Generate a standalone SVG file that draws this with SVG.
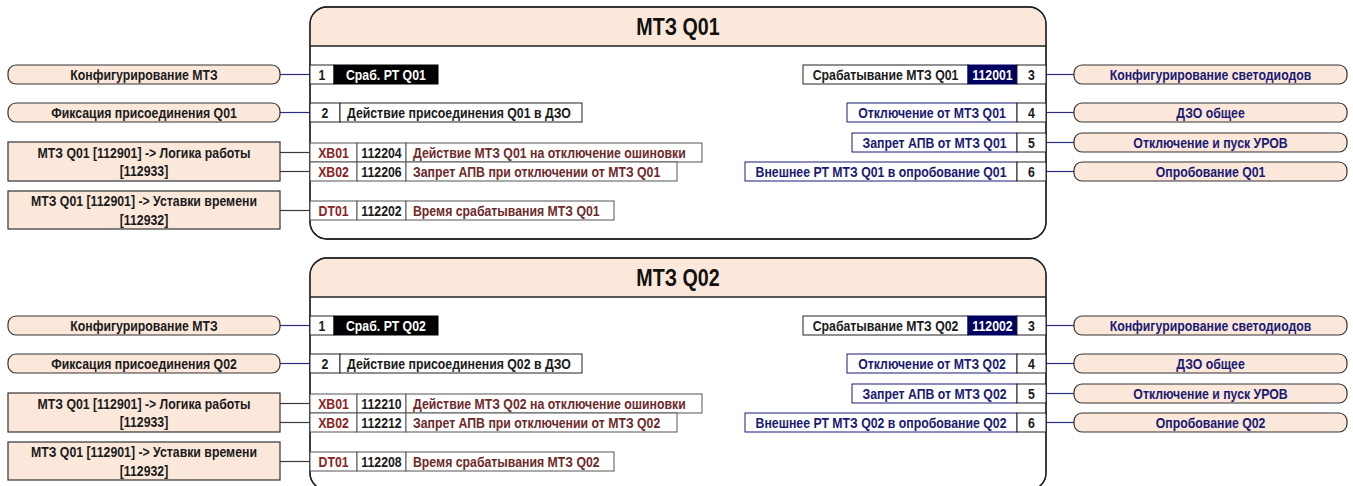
<svg xmlns="http://www.w3.org/2000/svg" width="1353" height="486" viewBox="0 0 1353 486">
<style>
text{font-family:"Liberation Sans Narrow","Arial Narrow","Liberation Sans",sans-serif;font-weight:bold;font-size:15px;fill:#1a1a1a;transform-box:fill-box;transform-origin:center;transform:scaleX(0.82)}
.l{transform-origin:left center}
.title{font-size:24px;fill:#111;text-anchor:middle}
.c{text-anchor:middle}
.pill{fill:#fce8da;stroke:#333;stroke-width:1.2}
.box{fill:#fce8da;stroke:#333;stroke-width:1.2}
.body{fill:#fff;stroke:#222;stroke-width:1.3}
.hdr{fill:#fce8da;stroke:none}
.sep{stroke:#222;stroke-width:1.3}
.cell{fill:#fff;stroke:#222;stroke-width:1}
.gcell{fill:#fff;stroke:#555;stroke-width:1}
.ncell{fill:#fff;stroke:#1a1a7a;stroke-width:1}
.blk{fill:#000;stroke:#000}
.navy{fill:#000060;stroke:#000060}
.w{fill:#fff}
.nv{fill:#1a1a72}
.br{fill:#6e2a2a}
.rd{fill:#8a2424}
.cb{stroke:#2b2b85;stroke-width:1.2;fill:none}
.cd{stroke:#3a3a3a;stroke-width:1.2;fill:none}
</style>
<defs>
<g id="blockshape">
<rect class="body" x="310" y="7" width="736" height="232" rx="17"/>
<path class="hdr" d="M310.7,46 V24 A17,17 0 0 1 327,7.7 H1029 A17,17 0 0 1 1045.3,24 V46 Z"/>
<line class="sep" x1="310" y1="46" x2="1046" y2="46"/>
<rect x="310" y="7" width="736" height="232" rx="17" fill="none" stroke="#222" stroke-width="1.3"/>
</g>
</defs>

<g id="connectors">
<g id="conn-q01">
<line class="cb" x1="280" y1="74.5" x2="310" y2="74.5"/>
<line class="cb" x1="280" y1="112.5" x2="310" y2="112.5"/>
<line class="cd" x1="280" y1="152.5" x2="310" y2="152.5"/>
<line class="cd" x1="280" y1="171.5" x2="310" y2="171.5"/>
<line class="cd" x1="280" y1="210.5" x2="310" y2="210.5"/>
<line class="cb" x1="1046" y1="74.5" x2="1074" y2="74.5"/>
<line class="cb" x1="1046" y1="112.5" x2="1074" y2="112.5"/>
<line class="cb" x1="1046" y1="142.5" x2="1074" y2="142.5"/>
<line class="cb" x1="1046" y1="171.5" x2="1074" y2="171.5"/>
</g>
<g id="conn-q02" transform="translate(0,251)">
<line class="cb" x1="280" y1="74.5" x2="310" y2="74.5"/>
<line class="cb" x1="280" y1="112.5" x2="310" y2="112.5"/>
<line class="cd" x1="280" y1="152.5" x2="310" y2="152.5"/>
<line class="cd" x1="280" y1="171.5" x2="310" y2="171.5"/>
<line class="cd" x1="280" y1="210.5" x2="310" y2="210.5"/>
<line class="cb" x1="1046" y1="74.5" x2="1074" y2="74.5"/>
<line class="cb" x1="1046" y1="112.5" x2="1074" y2="112.5"/>
<line class="cb" x1="1046" y1="142.5" x2="1074" y2="142.5"/>
<line class="cb" x1="1046" y1="171.5" x2="1074" y2="171.5"/>
</g>
</g>

<!-- ===== Block Q01 ===== -->
<g id="mtz-q01">
<use href="#blockshape"/>
<text class="title" x="678" y="35">МТЗ Q01</text>
<rect class="cell" x="310" y="65" width="24" height="19"/><text class="c" x="322" y="80">1</text>
<rect class="blk" x="334" y="65" width="104" height="19"/><text class="w l" x="346" y="80">Сраб. РТ Q01</text>
<rect class="cell" x="310" y="103" width="30" height="19"/><text class="c" x="325" y="118">2</text>
<rect class="cell" x="340" y="103" width="242" height="19"/><text class="l" x="347" y="118">Действие присоединения Q01 в ДЗО</text>
<rect class="gcell" x="310" y="143" width="47" height="19"/><text class="c rd" x="333.5" y="158">XB01</text>
<rect class="gcell" x="357" y="143" width="49" height="19"/><text class="c" x="381.5" y="158">112204</text>
<rect class="gcell" x="406" y="143" width="296" height="19"/><text class="br l" x="413" y="158">Действие МТЗ Q01 на отключение ошиновки</text>
<rect class="gcell" x="310" y="162" width="47" height="19"/><text class="c rd" x="333.5" y="177">XB02</text>
<rect class="gcell" x="357" y="162" width="49" height="19"/><text class="c" x="381.5" y="177">112206</text>
<rect class="gcell" x="406" y="162" width="271" height="19"/><text class="br l" x="413" y="177">Запрет АПВ при отключении от МТЗ Q01</text>
<rect class="gcell" x="310" y="201" width="47" height="19"/><text class="c rd" x="333.5" y="216">DT01</text>
<rect class="gcell" x="357" y="201" width="49" height="19"/><text class="c" x="381.5" y="216">112202</text>
<rect class="gcell" x="406" y="201" width="208" height="19"/><text class="br l" x="413" y="216">Время срабатывания МТЗ Q01</text>
<rect class="cell" x="803" y="65" width="165" height="19"/><text class="c" x="885.5" y="80">Срабатывание МТЗ Q01</text>
<rect class="navy" x="968" y="65" width="49" height="19"/><text class="c w" x="992.5" y="80">112001</text>
<rect class="cell" x="1017" y="65" width="29" height="19"/><text class="c" x="1031.5" y="80">3</text>
<rect class="ncell" x="847" y="103" width="170" height="19"/><text class="c nv" x="932" y="118">Отключение от МТЗ Q01</text>
<rect class="cell" x="1017" y="103" width="29" height="19"/><text class="c" x="1031.5" y="118">4</text>
<rect class="ncell" x="852" y="133" width="165" height="19"/><text class="c nv" x="934.5" y="148">Запрет АПВ от МТЗ Q01</text>
<rect class="cell" x="1017" y="133" width="29" height="19"/><text class="c" x="1031.5" y="148">5</text>
<rect class="ncell" x="745" y="162" width="272" height="19"/><text class="c nv" x="881" y="177">Внешнее РТ МТЗ Q01 в опробование Q01</text>
<rect class="cell" x="1017" y="162" width="29" height="19"/><text class="c" x="1031.5" y="177">6</text>
</g>

<g id="q01-in-config"><rect class="pill" x="8" y="65" width="272" height="19" rx="8"/><text class="c" x="144" y="80">Конфигурирование МТЗ</text></g>
<g id="q01-in-fix"><rect class="pill" x="8" y="103" width="272" height="19" rx="8"/><text class="c" x="144" y="118">Фиксация присоединения Q01</text></g>
<g id="q01-in-logic"><rect class="box" x="8" y="142" width="272" height="39"/><text class="c" x="144" y="158">МТЗ Q01 [112901] -&gt; Логика работы</text><text class="c" x="144" y="176.5">[112933]</text></g>
<g id="q01-in-time"><rect class="box" x="8" y="191" width="272" height="38"/><text class="c" x="144" y="206.5">МТЗ Q01 [112901] -&gt; Уставки времени</text><text class="c" x="144" y="225">[112932]</text></g>
<g id="q01-out-led"><rect class="pill" x="1074" y="65" width="273" height="19" rx="8"/><text class="c nv" x="1210.5" y="80">Конфигурирование светодиодов</text></g>
<g id="q01-out-dzo"><rect class="pill" x="1074" y="103" width="273" height="19" rx="8"/><text class="c nv" x="1210.5" y="118">ДЗО общее</text></g>
<g id="q01-out-urov"><rect class="pill" x="1074" y="133" width="273" height="19" rx="8"/><text class="c nv" x="1210.5" y="148">Отключение и пуск УРОВ</text></g>
<g id="q01-out-test"><rect class="pill" x="1074" y="162" width="273" height="19" rx="8"/><text class="c nv" x="1210.5" y="177">Опробование Q01</text></g>

<!-- ===== Block Q02 ===== -->
<g id="mtz-q02" transform="translate(0,251)">
<use href="#blockshape"/>
<text class="title" x="678" y="35">МТЗ Q02</text>
<rect class="cell" x="310" y="65" width="24" height="19"/><text class="c" x="322" y="80">1</text>
<rect class="blk" x="334" y="65" width="104" height="19"/><text class="w l" x="346" y="80">Сраб. РТ Q02</text>
<rect class="cell" x="310" y="103" width="30" height="19"/><text class="c" x="325" y="118">2</text>
<rect class="cell" x="340" y="103" width="242" height="19"/><text class="l" x="347" y="118">Действие присоединения Q02 в ДЗО</text>
<rect class="gcell" x="310" y="143" width="47" height="19"/><text class="c rd" x="333.5" y="158">XB01</text>
<rect class="gcell" x="357" y="143" width="49" height="19"/><text class="c" x="381.5" y="158">112210</text>
<rect class="gcell" x="406" y="143" width="296" height="19"/><text class="br l" x="413" y="158">Действие МТЗ Q02 на отключение ошиновки</text>
<rect class="gcell" x="310" y="162" width="47" height="19"/><text class="c rd" x="333.5" y="177">XB02</text>
<rect class="gcell" x="357" y="162" width="49" height="19"/><text class="c" x="381.5" y="177">112212</text>
<rect class="gcell" x="406" y="162" width="271" height="19"/><text class="br l" x="413" y="177">Запрет АПВ при отключении от МТЗ Q02</text>
<rect class="gcell" x="310" y="201" width="47" height="19"/><text class="c rd" x="333.5" y="216">DT01</text>
<rect class="gcell" x="357" y="201" width="49" height="19"/><text class="c" x="381.5" y="216">112208</text>
<rect class="gcell" x="406" y="201" width="208" height="19"/><text class="br l" x="413" y="216">Время срабатывания МТЗ Q02</text>
<rect class="cell" x="803" y="65" width="165" height="19"/><text class="c" x="885.5" y="80">Срабатывание МТЗ Q02</text>
<rect class="navy" x="968" y="65" width="49" height="19"/><text class="c w" x="992.5" y="80">112002</text>
<rect class="cell" x="1017" y="65" width="29" height="19"/><text class="c" x="1031.5" y="80">3</text>
<rect class="ncell" x="847" y="103" width="170" height="19"/><text class="c nv" x="932" y="118">Отключение от МТЗ Q02</text>
<rect class="cell" x="1017" y="103" width="29" height="19"/><text class="c" x="1031.5" y="118">4</text>
<rect class="ncell" x="852" y="133" width="165" height="19"/><text class="c nv" x="934.5" y="148">Запрет АПВ от МТЗ Q02</text>
<rect class="cell" x="1017" y="133" width="29" height="19"/><text class="c" x="1031.5" y="148">5</text>
<rect class="ncell" x="745" y="162" width="272" height="19"/><text class="c nv" x="881" y="177">Внешнее РТ МТЗ Q02 в опробование Q02</text>
<rect class="cell" x="1017" y="162" width="29" height="19"/><text class="c" x="1031.5" y="177">6</text>
</g>

<g id="q02-in-config" transform="translate(0,251)"><rect class="pill" x="8" y="65" width="272" height="19" rx="8"/><text class="c" x="144" y="80">Конфигурирование МТЗ</text></g>
<g id="q02-in-fix" transform="translate(0,251)"><rect class="pill" x="8" y="103" width="272" height="19" rx="8"/><text class="c" x="144" y="118">Фиксация присоединения Q02</text></g>
<g id="q02-in-logic" transform="translate(0,251)"><rect class="box" x="8" y="142" width="272" height="39"/><text class="c" x="144" y="158">МТЗ Q01 [112901] -&gt; Логика работы</text><text class="c" x="144" y="176.5">[112933]</text></g>
<g id="q02-in-time" transform="translate(0,251)"><rect class="box" x="8" y="191" width="272" height="38"/><text class="c" x="144" y="206.5">МТЗ Q01 [112901] -&gt; Уставки времени</text><text class="c" x="144" y="225">[112932]</text></g>
<g id="q02-out-led" transform="translate(0,251)"><rect class="pill" x="1074" y="65" width="273" height="19" rx="8"/><text class="c nv" x="1210.5" y="80">Конфигурирование светодиодов</text></g>
<g id="q02-out-dzo" transform="translate(0,251)"><rect class="pill" x="1074" y="103" width="273" height="19" rx="8"/><text class="c nv" x="1210.5" y="118">ДЗО общее</text></g>
<g id="q02-out-urov" transform="translate(0,251)"><rect class="pill" x="1074" y="133" width="273" height="19" rx="8"/><text class="c nv" x="1210.5" y="148">Отключение и пуск УРОВ</text></g>
<g id="q02-out-test" transform="translate(0,251)"><rect class="pill" x="1074" y="162" width="273" height="19" rx="8"/><text class="c nv" x="1210.5" y="177">Опробование Q02</text></g>
</svg>
